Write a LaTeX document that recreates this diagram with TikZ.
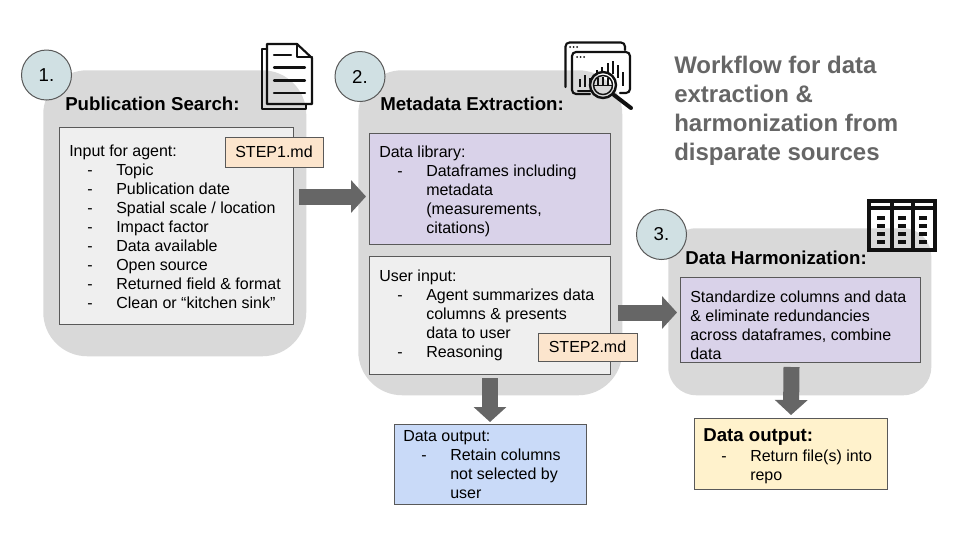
\documentclass[tikz,border=0pt]{standalone}
\usepackage{fontspec}
\setmainfont{Liberation Sans}
\usetikzlibrary{arrows.meta}
\definecolor{panelgray}{HTML}{D9D9D9}
\definecolor{boxgray}{HTML}{EFEFEF}
\definecolor{boxpurple}{HTML}{D9D2E9}
\definecolor{boxblue}{HTML}{C9DAF8}
\definecolor{boxyellow}{HTML}{FFF2CC}
\definecolor{boxorange}{HTML}{FCE5CD}
\definecolor{circleteal}{HTML}{D0E0E3}
\definecolor{edgegray}{HTML}{595959}
\definecolor{arrowgray}{HTML}{666666}
\definecolor{titlegray}{HTML}{666666}
\definecolor{icondark}{HTML}{111111}
\newcommand\dashitem[1]{\hspace*{13.5pt}\makebox[21.75pt][l]{-}#1}
\newcommand\contline[1]{\hspace*{35.25pt}#1}
\tikzset{
  x=0.75pt,y=-0.75pt,
  panel/.style={fill=panelgray,draw=none,inner sep=0pt,anchor=north west},
  infobox/.style={draw=edgegray,line width=0.75pt,inner sep=0pt,anchor=north west},
  numcircle/.style={circle,draw=edgegray,line width=0.75pt,fill=circleteal,inner sep=0pt,minimum size=37.5pt,font=\fontsize{14pt}{16pt}\selectfont},
  panelhead/.style={anchor=base west,inner sep=0pt,font=\bfseries\fontsize{14pt}{16pt}\selectfont},
  bodytext/.style={anchor=north west,inner sep=0pt,align=left,font=\fontsize{12pt}{14.25pt}\selectfont},
  blockarrow/.style={draw=arrowgray,line width=12pt,-{Triangle[length=11.25pt,width=24pt]}},
  iconline/.style={draw=icondark,line width=1.6pt,line cap=round,line join=round},
  iconbar/.style={draw=icondark,line width=1.2pt,line cap=butt},
  iconheavy/.style={draw=icondark,line width=2.4pt,line cap=butt,line join=miter},
  icondash/.style={draw=icondark,line width=2.4pt,line cap=butt},
}
\begin{document}
\begin{tikzpicture}
\useasboundingbox (0,0) rectangle (960,540);
\fill[white] (0,0) rectangle (960,540);
% panels
\node[panel,minimum width=197.25pt,minimum height=214.5pt,rounded corners=33pt] (panelA) at (43,70) {};
\node[panel,minimum width=198pt,minimum height=243.75pt,rounded corners=33pt] (panelB) at (358,70) {};
\node[panel,minimum width=197.25pt,minimum height=125.25pt,rounded corners=21pt] (panelC) at (668,228) {};
% number circles
\node[numcircle] (numA) at (46.5,75) {1.};
\node[numcircle] (numB) at (360,76.5) {2.};
\node[numcircle] (numC) at (661.5,234.5) {3.};
% headings
\node[panelhead] (headA) at (65,110) {Publication Search:};
\node[panelhead] (headB) at (380,110) {Metadata Extraction:};
\node[panelhead] (headC) at (685,264) {Data Harmonization:};
% boxes
\node[infobox,fill=boxgray,minimum width=175.5pt,minimum height=147.75pt] (inputbox) at (59,127) {};
\node[infobox,fill=boxpurple,minimum width=180.75pt,minimum height=83.25pt] (libbox) at (369,133) {};
\node[infobox,fill=boxgray,minimum width=180.75pt,minimum height=88.5pt] (userbox) at (369,256) {};
\node[infobox,fill=boxblue,minimum width=144pt,minimum height=60pt] (outbox) at (393.5,424) {};
\node[infobox,fill=boxpurple,minimum width=180pt,minimum height=63.75pt] (harmbox) at (680,277) {};
\node[infobox,fill=boxyellow,minimum width=144.75pt,minimum height=53.25pt] (finalbox) at (694,418) {};
% body text
\node[bodytext] (inputtext) at (69,144.5) {Input for agent:\\
  \dashitem{Topic}\\
  \dashitem{Publication date}\\
  \dashitem{Spatial scale / location}\\
  \dashitem{Impact factor}\\
  \dashitem{Data available}\\
  \dashitem{Open source}\\
  \dashitem{Returned field \& format}\\
  \dashitem{Clean or “kitchen sink”}};
\node[bodytext] (libtext) at (379,146) {Data library:\\
  \dashitem{Dataframes including}\\
  \contline{metadata}\\
  \contline{(measurements,}\\
  \contline{citations)}};
\node[bodytext] (usertext) at (379,270) {User input:\\
  \dashitem{Agent summarizes data}\\
  \contline{columns \& presents}\\
  \contline{data to user}\\
  \dashitem{Reasoning}};
\node[bodytext] (outtext) at (403,430.5) {Data output:\\
  \dashitem{Retain columns}\\
  \contline{not selected by}\\
  \contline{user}};
\node[bodytext] (harmtext) at (690,291) {Standardize columns and data\\
  \& eliminate redundancies\\
  across dataframes, combine\\
  data};
\node[panelhead] (finalhead) at (703,441) {Data output:};
\node[bodytext] (finaltext) at (703,450) {\dashitem{Return file(s) into}\\
  \contline{repo}};
% step tags
\node[infobox,fill=boxorange,minimum width=73.5pt,minimum height=22.5pt,anchor=center,font=\fontsize{12pt}{14pt}\selectfont] (stepA) at (274,152) {STEP1.md};
\node[infobox,fill=boxorange,minimum width=74.25pt,minimum height=21pt,anchor=center,font=\fontsize{12pt}{14pt}\selectfont] (stepB) at (587.5,347) {STEP2.md};
% block arrows
\draw[blockarrow] ([shift={(5,-29.5)}]inputbox.east) -- ([shift={(-3,7.5)}]libbox.west);
\draw[blockarrow] ([shift={(7,-3)}]userbox.east) -- ([shift={(-3,-7.5)}]harmbox.west);
\draw[blockarrow] ([shift={(0,3)}]userbox.south) -- ([shift={(0,-2)}]outbox.north);
\draw[blockarrow] ([shift={(-9,4)}]harmbox.south) -- ([shift={(0,-3)}]finalbox.north);
% title
\node[anchor=north west,inner sep=0pt,align=left,text=titlegray,font=\bfseries\fontsize{18pt}{21.75pt}\selectfont] (wftitle) at (674,56) {Workflow for data\\extraction \&\\harmonization from\\disparate sources};
% document icon
\draw[iconline] (267,44) -- (297,44) -- (312,58) -- (312,104) -- (267,104) -- cycle;
\draw[iconline] (297,44) -- (297,57) -- (312,57);
\draw[iconline] (267,49) -- (262,49) -- (262,109) -- (306,109) -- (306,104);
\draw[iconline] (274,55) -- (291,55);
\draw[iconline] (274,67.5) -- (305,67.5);
\draw[iconline] (274,80.5) -- (305,80.5);
\draw[iconline] (274,93) -- (305,93);
% chart icon
\draw[iconline,rounded corners=3pt] (565.5,87) -- (565.5,42.5) -- (625,42.5) -- (625,50);
\draw[iconline,rounded corners=3pt] (590,94) -- (572,94) -- (572,52) -- (630,52) -- (630,93) -- (620,93);
\foreach \dx in {570,573.5,577}{\fill[icondark] (\dx,47) circle (1);}
\foreach \dx in {577,580.5,584}{\fill[icondark] (\dx,57) circle (1);}
\draw[iconline] (578,91) -- (592,91);
\draw[iconbar] (580,87) -- (580,79);
\draw[iconbar] (585,87) -- (585,75);
\draw[iconbar] (590,87) -- (590,78);
\foreach \bx/\by/\be in {597/70/74,602/67/72,608/63/72,613/61/74,618/65/78,623/72/86}{\draw[iconbar] (\bx,\by) -- (\bx,\be);}
\draw[iconline,line width=1.8pt] (603,85) circle (13);
\draw[iconline,line width=1.1pt] (603,85) circle (9.5);
\draw[iconbar,line width=1pt] (598,78) -- (598,85);
\draw[iconbar,line width=1pt] (603,77) -- (603,85);
\draw[iconbar,line width=1pt] (608,78) -- (608,85);
\draw[iconline,line width=1.1pt] (594,85.5) -- (612,85.5);
\draw[iconline,line width=3pt] (614,95) -- (631,108);
% table icon
\draw[iconheavy] (869,201) rectangle (935,250);
\draw[iconheavy] (869,208) -- (935,208);
\draw[iconheavy] (892,201) -- (892,250);
\draw[iconheavy] (913,201) -- (913,250);
\foreach \cx in {881,902,923}{\foreach \cy in {218,226,234,242}{\draw[icondash] (\cx-4,\cy) -- (\cx+4,\cy);}}
\end{tikzpicture}
\end{document}
